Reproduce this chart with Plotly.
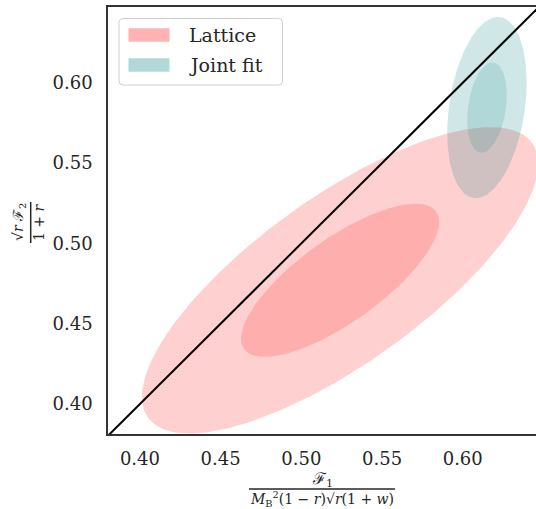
import numpy as np
import plotly.graph_objects as go

# ---------------- data ----------------
series_names = ["Lattice", "Joint fit"]
lattice_center = [0.524, 0.477]
lattice_sigma = [0.0614, 0.0477]
lattice_rho = 0.76
joint_center = [0.615, 0.5846]
joint_sigma = [0.0123, 0.0282]
joint_rho = 0.28
sigma_levels = [2, 1]          # outer, inner
diag_x = [0.37, 0.66]          # y = x reference line
diag_y = [0.37, 0.66]
x_ticks = [0.40, 0.45, 0.50, 0.55, 0.60]
y_ticks = [0.40, 0.45, 0.50, 0.55, 0.60]
x_range = [0.3802, 0.6454]
y_range = [0.3813, 0.6472]

# ---------------- styling ----------------
W, H = 536, 509
ML, MR, MT, MB = 108, 0, 7, 75
PW, PH = W - ML - MR, H - MT - MB
TXT = "#262626"
FONT = "DejaVu Serif"

lattice_fills = ["rgba(255,0,0,0.184)", "rgba(255,0,0,0.16)"]
joint_fills = ["rgba(0,128,128,0.188)", "rgba(0,128,128,0.14)"]
legend_colors = ["#FFB3B3", "#B2D8D8"]


def px(xp):
    return (xp - ML) / PW


def py(yp):
    return (H - MB - yp) / PH


def ellipse(center, sigma, rho, k, n=240):
    t = np.linspace(0, 2 * np.pi, n)
    x = center[0] + k * sigma[0] * np.cos(t)
    y = center[1] + k * sigma[1] * (rho * np.cos(t) + np.sqrt(1 - rho ** 2) * np.sin(t))
    return x, y


fig = go.Figure()

for (c, s, r, fills, name) in [
    (lattice_center, lattice_sigma, lattice_rho, lattice_fills, series_names[0]),
    (joint_center, joint_sigma, joint_rho, joint_fills, series_names[1]),
]:
    for k, fc in zip(sigma_levels, fills):
        ex, ey = ellipse(c, s, r, k)
        fig.add_trace(go.Scatter(x=ex, y=ey, mode="lines", fill="toself",
                                 fillcolor=fc, line=dict(width=0),
                                 name=name, showlegend=False, hoverinfo="skip"))

fig.add_trace(go.Scatter(x=diag_x, y=diag_y, mode="lines",
                         line=dict(color="black", width=2), showlegend=False))

axis_common = dict(showgrid=False, zeroline=False, showline=True,
                   linecolor="#333333", linewidth=1.5, ticks="",
                   tickfont=dict(family=FONT, size=18, color=TXT),
                   automargin=False)
fig.update_xaxes(range=x_range, tickvals=x_ticks, ticktext=[f"{v:.2f}" for v in x_ticks],
                 mirror=True, ticklabelstandoff=8, **axis_common)
fig.update_yaxes(range=y_range, tickvals=y_ticks, ticktext=[f"{v:.2f}" for v in y_ticks],
                 mirror=False, ticklabelstandoff=10, **axis_common)

shapes = []
annotations = []

# ---- custom legend ----
bx0, bx1, by0, by1, rr = 119, 282.5, 18.5, 85, 4
rx, ry = rr / PW, rr / PH
X0, X1, Y0, Y1 = px(bx0), px(bx1), py(by1), py(by0)
path = (f"M{X0+rx},{Y0} L{X1-rx},{Y0} Q{X1},{Y0} {X1},{Y0+ry} "
        f"L{X1},{Y1-ry} Q{X1},{Y1} {X1-rx},{Y1} L{X0+rx},{Y1} "
        f"Q{X0},{Y1} {X0},{Y1-ry} L{X0},{Y0+ry} Q{X0},{Y0} {X0+rx},{Y0} Z")
shapes.append(dict(type="path", path=path, xref="paper", yref="paper",
                   fillcolor="rgba(255,255,255,0.8)",
                   line=dict(color="#D0D0D0", width=1)))
for i, (name, col) in enumerate(zip(series_names, legend_colors)):
    yc = 35 + 30 * i
    shapes.append(dict(type="rect", xref="paper", yref="paper",
                       x0=px(128.5), x1=px(169.5), y0=py(yc + 6.8), y1=py(yc - 6.8),
                       fillcolor=col, line=dict(width=0)))
    annotations.append(dict(text=name, xref="paper", yref="paper",
                            x=px(187), y=py(yc), xanchor="left", yanchor="middle",
                            showarrow=False,
                            font=dict(family=FONT, size=19, color=TXT)))

# ---- x-axis label (fraction) ----
xc = 322
annotations.append(dict(text="ℱ<sub>1</sub>", xref="paper", yref="paper",
                        x=px(xc), y=py(480), xanchor="center", yanchor="middle",
                        showarrow=False, font=dict(family=FONT, size=16, color=TXT)))
shapes.append(dict(type="line", xref="paper", yref="paper",
                   x0=px(249), x1=px(395), y0=py(489), y1=py(489),
                   line=dict(color=TXT, width=1.5)))
annotations.append(dict(text="<i>M</i><sub>B</sub><sup>2</sup>(1 − <i>r</i>)√<i>r</i>(1 + <i>w</i>)",
                        xref="paper", yref="paper",
                        x=px(xc), y=py(499), xanchor="center", yanchor="middle",
                        showarrow=False, font=dict(family=FONT, size=14, color=TXT)))

# ---- y-axis label (fraction, rotated) ----
yc = 222
annotations.append(dict(text="√<i>r</i> ℱ<sub>2</sub>", xref="paper", yref="paper",
                        x=px(19), y=py(yc), xanchor="center", yanchor="middle",
                        textangle=-90, showarrow=False,
                        font=dict(family=FONT, size=14, color=TXT)))
shapes.append(dict(type="line", xref="paper", yref="paper",
                   x0=px(30.7), x1=px(30.7), y0=py(202), y1=py(243),
                   line=dict(color=TXT, width=1.5)))
annotations.append(dict(text="1 + <i>r</i>", xref="paper", yref="paper",
                        x=px(39), y=py(yc), xanchor="center", yanchor="middle",
                        textangle=-90, showarrow=False,
                        font=dict(family=FONT, size=14, color=TXT)))

fig.update_layout(width=W, height=H,
                  margin=dict(l=ML, r=MR, t=MT, b=MB, pad=0),
                  paper_bgcolor="white", plot_bgcolor="white",
                  showlegend=False, shapes=shapes, annotations=annotations)

fig.write_html("out.html")
